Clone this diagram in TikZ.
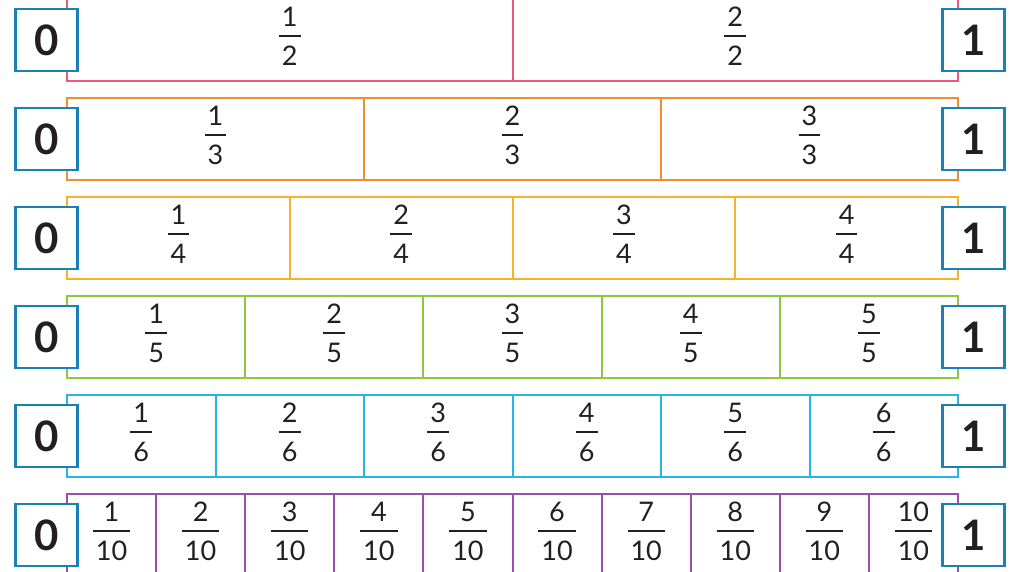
\documentclass[tikz,border=0pt]{standalone}
\usepackage{fontspec}
\setmainfont{Lato}
\usepackage{tikz}
\definecolor{rosa}{HTML}{EE5A75}
\definecolor{naranja}{HTML}{F28C30}
\definecolor{amarillo}{HTML}{F7B12A}
\definecolor{verde}{HTML}{8DC63F}
\definecolor{cian}{HTML}{27B4E6}
\definecolor{morado}{HTML}{9A4EAE}
\definecolor{azul}{HTML}{1C80B8}
\definecolor{texto}{HTML}{231F20}
\newcommand{\fr}[2]{\setlength{\arrayrulewidth}{1.8pt}\renewcommand{\arraystretch}{1}%
  \begin{tabular}{@{\hspace{3pt}}c@{\hspace{3pt}}}#1\\[1pt]\hline\rule{0pt}{28pt}#2\end{tabular}}
\tikzset{
  barra/.style={line width=2pt},
  caja/.style={draw=azul,line width=2.6pt,fill=white,minimum size=62pt,inner sep=0pt,
    text=texto,font=\bfseries\fontsize{42}{42}\selectfont},
  frac/.style={inner sep=0pt,text=texto,font=\fontsize{27}{27}\selectfont}
}
\begin{document}
\begin{tikzpicture}[x=1pt,y=-1pt]
\useasboundingbox (0,0) rectangle (1011,571);
\foreach \d/\c [count=\r from 0] in {2/rosa,3/naranja,4/amarillo,5/verde,6/cian,10/morado}{
  \pgfmathsetmacro{\yc}{40+99*\r}
  \draw[barra,\c] (67,\yc-41) rectangle (958,\yc+41);
  \foreach \k in {1,...,\d}{
    \ifnum\k<\d \draw[barra,\c] ({67+891*\k/\d},\yc-41) -- ++(0,82); \fi
    \node[frac] (f\r-\k) at ({67+891*(\k-0.5)/\d},\yc) {\fr{\k}{\d}};
  }
  \node[caja] (cero\r) at (46.5,\yc) {0};
  \node[caja] (uno\r) at (973.5,\yc) {1};
}
\end{tikzpicture}
\end{document}
